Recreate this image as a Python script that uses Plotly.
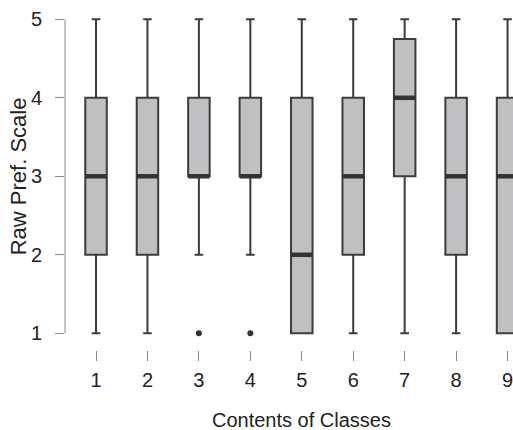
import plotly.graph_objects as go

categories = [1, 2, 3, 4, 5, 6, 7, 8, 9]
lower_whisker = [1, 1, 2, 2, 1, 1, 1, 1, 1]
q1 = [2, 2, 3, 3, 1, 2, 3, 2, 1]
median = [3, 3, 3, 3, 2, 3, 4, 3, 3]
q3 = [4, 4, 4, 4, 4, 4, 4.75, 4, 4]
upper_whisker = [5, 5, 5, 5, 5, 5, 5, 5, 5]
outlier_x = [3, 4]
outlier_y = [1, 1]
y_ticks = [1, 2, 3, 4, 5]

FONT = "Liberation Sans, Arial, sans-serif"
BOX_W = 0.418
LINE = "#3c3c3c"

fig = go.Figure()
fig.add_trace(go.Box(
    x=categories, q1=q1, median=median, q3=q3,
    lowerfence=lower_whisker, upperfence=upper_whisker,
    boxpoints=False, width=BOX_W, whiskerwidth=0.4,
    fillcolor="#c0c0c2", line=dict(color=LINE, width=2),
    showlegend=False, hoverinfo="skip",
))

mx, my = [], []
for c, m in zip(categories, median):
    mx += [c - BOX_W / 2, c + BOX_W / 2, None]
    my += [m, m, None]
fig.add_trace(go.Scatter(x=mx, y=my, mode="lines",
                         line=dict(color="#333333", width=4.5),
                         showlegend=False, hoverinfo="skip"))
fig.add_trace(go.Scatter(x=outlier_x, y=outlier_y, mode="markers",
                         marker=dict(color="#333333", size=6),
                         showlegend=False, hoverinfo="skip"))

fig.add_shape(type="line", xref="paper", yref="y", x0=0, x1=0,
              y0=min(y_ticks), y1=max(y_ticks),
              line=dict(color="#8a8a8a", width=1))

fig.add_annotation(text="Contents of Classes", xref="x", yref="paper",
                   x=categories[len(categories) // 2], y=0, yshift=-70,
                   yanchor="middle", showarrow=False,
                   font=dict(family=FONT, size=20, color="#222222"))
fig.add_annotation(text="Raw Pref. Scale", xref="paper", yref="y",
                   x=0, y=(min(y_ticks) + max(y_ticks)) / 2,
                   xshift=-47, textangle=-90,
                   xanchor="center", yanchor="middle", showarrow=False,
                   font=dict(family=FONT, size=22, color="#222222"))

fig.update_layout(
    width=513, height=430,
    margin=dict(l=65, r=0, t=8, b=80),
    paper_bgcolor="white", plot_bgcolor="white",
    font=dict(family=FONT, size=20, color="#222222"),
    xaxis=dict(range=[0.397, 9.106], tickvals=categories,
               ticktext=[str(c) for c in categories],
               ticks="outside", ticklen=10, tickcolor="#8a8a8a", tickwidth=1,
               showline=False, showgrid=False, zeroline=False,
               ticklabelstandoff=2, automargin=False,
               ticklabeloverflow="allow"),
    yaxis=dict(range=[0.787, 5.144], tickvals=y_ticks,
               ticks="outside", ticklen=9, tickcolor="#8a8a8a", tickwidth=1,
               showline=False, showgrid=False, zeroline=False,
               ticklabelstandoff=9, automargin=False,
               ticklabeloverflow="allow"),
)

fig.write_html("out.html",
               config={"displayModeBar": False},
               post_script="document.body.style.margin='0';"
                           "document.body.style.overflow='hidden';")
